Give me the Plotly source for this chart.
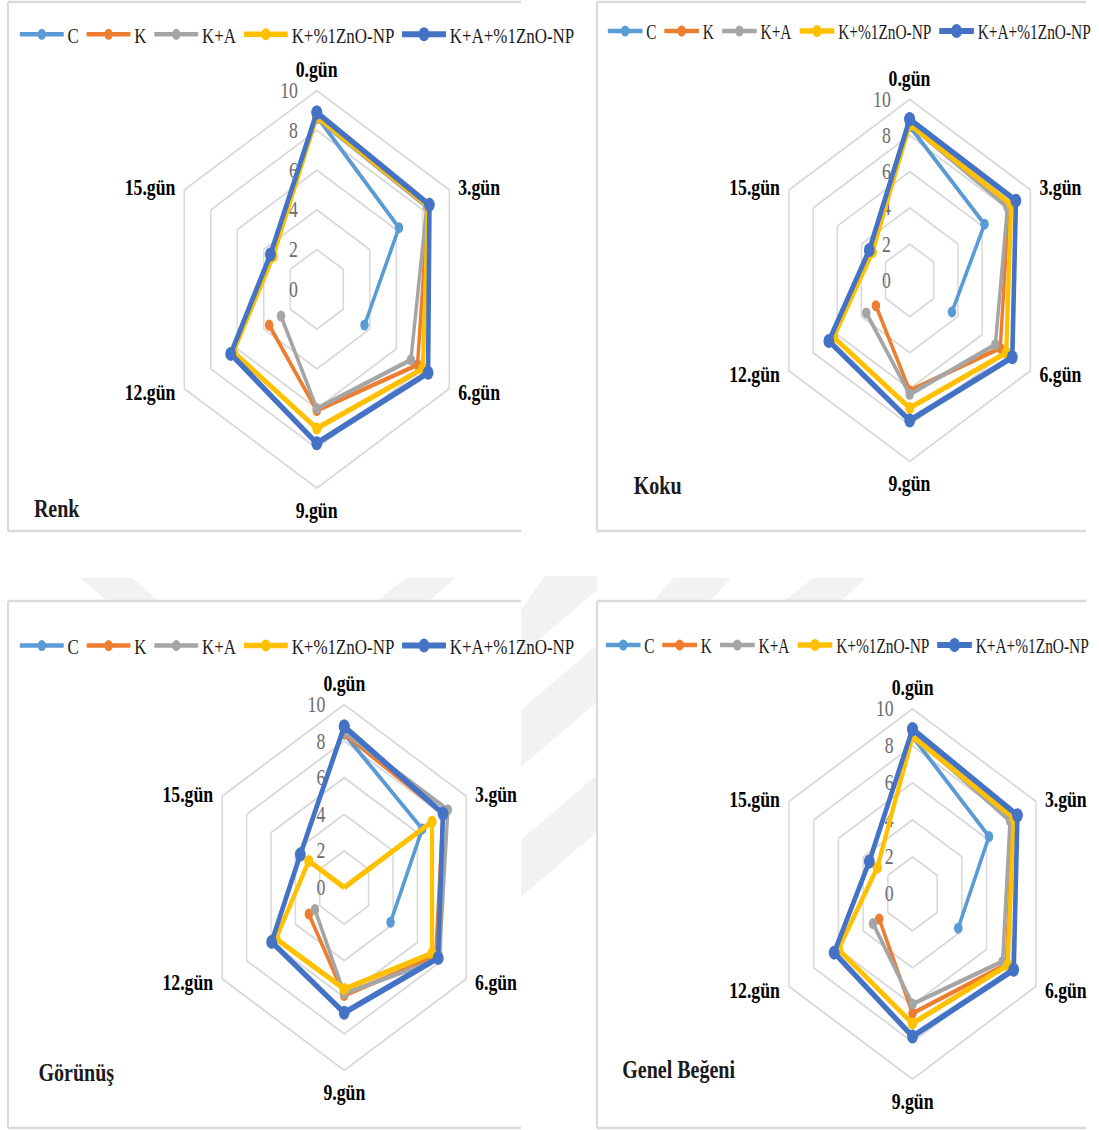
import math
import plotly.graph_objects as go

# Storage days and sample groups
days = ["0.gün", "3.gün", "6.gün", "9.gün", "12.gün", "15.gün"]
groups = ["C", "K", "K+A", "K+%1ZnO-NP", "K+A+%1ZnO-NP"]

# Sensory scores (0-10); None = group no longer evaluated on that day
renk_c = [8.7, 6.2, 3.6, None, None, None]
renk_k = [8.7, 8.4, 7.6, 6.1, 3.6, None]
renk_ka = [8.6, 8.3, 7.1, 6.0, 2.7, None]
renk_kzno = [8.7, 8.4, 8.0, 7.0, 6.3, 3.3]
renk_kazno = [8.9, 8.5, 8.4, 7.75, 6.5, 3.5]

koku_c = [8.5, 6.2, 3.5, None, None, None]
koku_k = [8.6, 8.2, 7.5, 6.1, 2.8, None]
koku_ka = [8.6, 8.1, 7.1, 6.3, 3.6, None]
koku_kzno = [8.6, 8.4, 8.0, 7.05, 6.3, 3.1]
koku_kazno = [8.9, 8.8, 8.5, 7.75, 6.7, 3.35]

gorunus_c = [8.4, 6.4, 3.8, None, None, None]
gorunus_k = [8.4, 8.1, 7.5, 5.9, 2.9, None]
gorunus_ka = [8.5, 8.5, 7.8, 5.8, 2.4, None]
gorunus_kzno = [0, 7.2, 7.2, 5.55, 5.6, 2.9]
gorunus_kazno = [8.8, 8.1, 7.7, 6.85, 5.95, 3.6]

genel_c = [8.5, 6.2, 3.7, None, None, None]
genel_k = [8.6, 8.1, 7.6, 6.45, 2.7, None]
genel_ka = [8.6, 7.9, 7.3, 5.95, 3.2, None]
genel_kzno = [8.5, 8.2, 7.7, 7.0, 6.0, 2.85]
genel_kazno = [8.9, 8.5, 8.2, 7.7, 6.35, 3.5]

radial_ticks = [0, 2, 4, 6, 8, 10]

# ---- styling -------------------------------------------------------------
FONT = "Liberation Serif"
colors = ["#5B9BD5", "#ED7D31", "#A5A5A5", "#FFC000", "#4472C4"]
line_widths = [4.5, 4.5, 4.5, 5.5, 6]
marker_sizes = [11, 11, 11, 12, 14]

SX = 0.77          # horizontal compression applied to the whole page
W = 1530           # layout width before compression
H = 1130


def fx(x):
    """screen x (px) -> paper x"""
    return x / SX / W


def fy(y):
    """screen y (px) -> paper y"""
    return 1 - y / H


panels = [
    dict(title="Renk", series=[renk_c, renk_k, renk_ka, renk_kzno, renk_kazno],
         box=(8, 2, 521, 531), center=(316.8, 289.3), radius=198.7,
         legend=(16, 34.5), legend_font=22, legend_item=57, title_pos=(32, 508)),
    dict(title="Koku", series=[koku_c, koku_k, koku_ka, koku_kzno, koku_kazno],
         box=(597, 2, 1086, 531), center=(909.7, 280.3), radius=181,
         legend=(604, 31), legend_font=20, legend_item=45, title_pos=(632, 485.5)),
    dict(title="Görünüş", series=[gorunus_c, gorunus_k, gorunus_ka, gorunus_kzno, gorunus_kazno],
         box=(8, 601, 521, 1128), center=(344.2, 887.5), radius=182.9,
         legend=(16, 645.8), legend_font=22, legend_item=57, title_pos=(37, 1072)),
    dict(title="Genel Beğeni", series=[genel_c, genel_k, genel_ka, genel_kzno, genel_kazno],
         box=(597, 601, 1086, 1128), center=(912.5, 893.9), radius=185.1,
         legend=(602, 645), legend_font=20, legend_item=45, title_pos=(621, 1069)),
]

# placement of the day labels around each hexagon: (dx, dy, xanchor)
label_offsets = [
    (0, -21, "center"),
    (8, -2, "left"),
    (8, 4, "left"),
    (0, 22, "center"),
    (-8, 4, "right"),
    (-8, -2, "right"),
]


def closed(values):
    return list(values) + [values[0]]


fig = go.Figure()
layout = dict(
    width=W, height=H,
    margin=dict(l=0, r=0, t=0, b=0),
    paper_bgcolor="white",
    plot_bgcolor="white",
    showlegend=True,
    font=dict(family=FONT, color="#1a1a1a"),
)

shapes = []
annotations = []

# faint background watermark bands visible between the panels
wm_bands = [
    [(80, 578), (132, 578), (159, 601), (107, 601)],
    [(406, 578), (455, 578), (429, 601), (377, 601)],
    [(545, 576), (597, 576), (597, 590), (521, 655), (521, 610)],
    [(674, 578), (731, 578), (710, 601), (653, 601)],
    [(813, 578), (866, 578), (841, 601), (784, 601)],
    [(597, 645), (597, 702), (521, 767), (521, 710)],
    [(597, 775), (597, 832), (521, 897), (521, 840)],
]
for band in wm_bands:
    path = "M " + " L ".join(f"{fx(x):.5f},{fy(y):.5f}" for x, y in band) + " Z"
    shapes.append(dict(type="path", xref="paper", yref="paper", path=path,
                       fillcolor="#f2f2f2", line=dict(width=0), layer="below"))

for i, p in enumerate(panels):
    k = "" if i == 0 else str(i + 1)
    x0, y0, x1, y1 = p["box"]
    # panel background and frame (left, top, bottom edges)
    shapes.append(dict(type="rect", xref="paper", yref="paper",
                       x0=fx(x0), x1=fx(x1), y0=fy(y1), y1=fy(y0),
                       fillcolor="white", line=dict(width=0), layer="below"))
    for (ax0, ay0, ax1, ay1) in [(x0, y0, x0, y1), (x0, y0, x1, y0), (x0, y1, x1, y1)]:
        shapes.append(dict(type="line", xref="paper", yref="paper",
                           x0=fx(ax0), x1=fx(ax1), y0=fy(ay0), y1=fy(ay1),
                           line=dict(color="#d9d9d9", width=2.5), layer="below"))

    cx, cy = p["center"]
    r = p["radius"]
    cxp = cx / SX
    layout["polar" + k] = dict(
        domain=dict(x=[(cxp - r) / W, (cxp + r) / W],
                    y=[1 - (cy + r) / H, 1 - (cy - r) / H]),
        bgcolor="rgba(0,0,0,0)",
        gridshape="linear",
        radialaxis=dict(
            range=[0, 10], tickvals=radial_ticks, angle=90, tickangle=90,
            side="counterclockwise", showline=False,
            ticks="outside", ticklen=16, tickcolor="rgba(0,0,0,0)",
            gridcolor="#d9d9d9", gridwidth=2,
            tickfont=dict(family=FONT, size=23, color="#6b6b6b"),
            layer="below traces",
        ),
        angularaxis=dict(
            type="category", categoryarray=days, direction="clockwise", rotation=90,
            showgrid=False, showline=True, linecolor="#d9d9d9", linewidth=2,
            ticks="", showticklabels=False,
            layer="below traces",
        ),
    )

    # day labels around the hexagon
    for j, day in enumerate(days):
        ang = math.radians(60 * j)
        vx = cx + SX * r * math.sin(ang)
        vy = cy - r * math.cos(ang)
        dx, dy, anchor = label_offsets[j]
        annotations.append(dict(
            text=day, xref="paper", yref="paper", x=fx(vx + dx), y=fy(vy + dy),
            xanchor=anchor, yanchor="middle", showarrow=False, borderpad=0,
            font=dict(family=FONT, size=23, color="black", weight="bold"),
        ))

    lx, ly = p["legend"]
    layout["legend" + k] = dict(
        orientation="h", x=fx(lx), y=fy(ly), xanchor="left", yanchor="middle",
        font=dict(family=FONT, size=p["legend_font"], color="#1a1a1a"),
        itemwidth=p["legend_item"], bgcolor="rgba(0,0,0,0)", borderwidth=0,
        itemclick=False, itemdoubleclick=False,
    )

    for g, name in enumerate(groups):
        fig.add_trace(go.Scatterpolar(
            r=closed(p["series"][g]), theta=closed(days),
            mode="lines+markers", name=name,
            line=dict(color=colors[g], width=line_widths[g]),
            marker=dict(color=colors[g], size=marker_sizes[g]),
            connectgaps=False, cliponaxis=False,
            subplot="polar" + k, legend="legend" + k,
            hoverinfo="name+r+theta",
        ))

for p in panels:
    tx, ty = p["title_pos"]
    annotations.append(dict(
        text=p["title"], xref="paper", yref="paper", x=fx(tx), y=fy(ty),
        xanchor="left", yanchor="middle", showarrow=False,
        font=dict(family=FONT, size=26, color="#1a1a1a", weight="bold"),
    ))

layout["shapes"] = shapes
layout["annotations"] = annotations
fig.update_layout(**layout)

# squeeze the page horizontally so it fits the viewport
squeeze = (
    "var gd=document.getElementById('{plot_id}');"
    "document.documentElement.style.margin='0';document.body.style.margin='0';"
    "document.documentElement.style.overflow='hidden';document.body.style.overflow='hidden';"
    "gd.style.transformOrigin='0 0';gd.style.transform='scaleX(" + str(SX) + ")';"
)
fig.write_html("out.html", post_script=squeeze, config=dict(displayModeBar=False))
